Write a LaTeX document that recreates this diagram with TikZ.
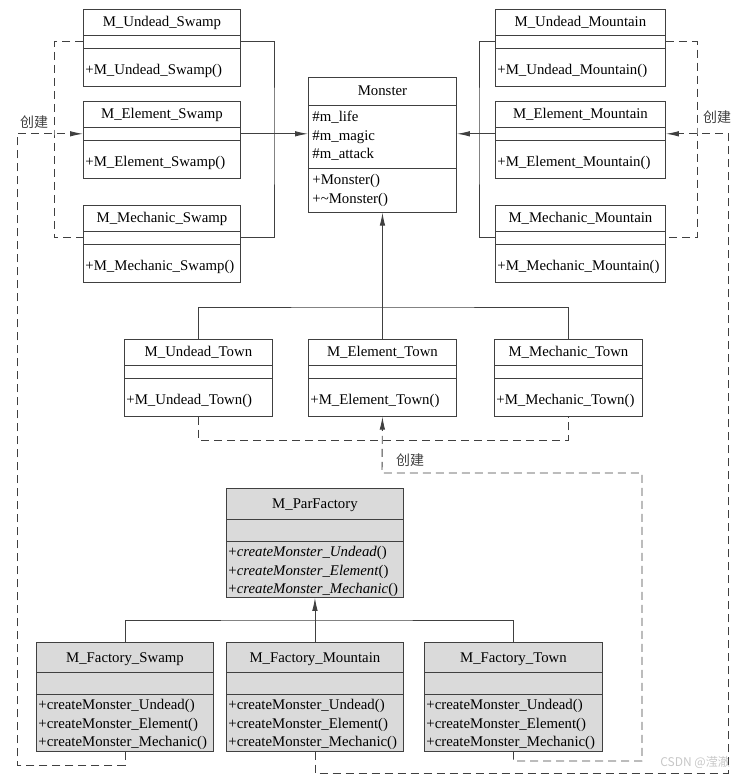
\documentclass[tikz,border=0pt]{standalone}
\usepackage{fontspec}
\setmainfont{Liberation Serif}
\newfontfamily\cjk{Noto Sans CJK SC}
\usepackage{tikz}
\usetikzlibrary{arrows.meta}
\usetikzlibrary{shapes.multipart}
\definecolor{linegray}{RGB}{64,64,64}
\definecolor{boxgray}{RGB}{218,218,218}
\tikzset{>=latex}
\tikzstyle{cls} = [rectangle split, rectangle split parts=3, draw=linegray, line width=0.9pt, anchor=north west, inner xsep=2pt, inner ysep=0pt, align=left, rectangle split part align={center,left,left}, rectangle split empty part height=6pt, rectangle split empty part depth=6pt, font=\fontsize{14.8}{18.5}\selectfont]
\tikzstyle{fct} = [cls, fill=boxgray, minimum width=177pt, rectangle split empty part height=10.5pt, rectangle split empty part depth=10.5pt]
\tikzstyle{ln} = [draw=linegray, line width=0.9pt]
\tikzstyle{inh} = [ln, -{Latex[length=13pt,width=5.5pt]}]
\tikzstyle{dep} = [ln, line width=1pt, dash pattern=on 8pt off 5pt]
\tikzstyle{lbl} = [font=\cjk\fontsize{14}{16}\selectfont, text=linegray, inner sep=0pt]
% struts for the parts of a class box
\newcommand{\cname}[2][25pt]{\rule[-0.34\dimexpr#1\relax]{0pt}{#1}#2}
\newcommand{\cop}[1]{\rule[-11.5pt]{0pt}{37pt}#1}
\newcommand{\gap}[1][12pt]{\rule[-0.5\dimexpr#1\relax]{0pt}{#1}}
\newcommand{\firstrow}[1][16pt]{\rule{0pt}{#1}}
\newcommand{\lastrow}[1][6pt]{\rule[-#1]{0pt}{#1}}

\begin{document}
\begin{tikzpicture}[x=1pt,y=-1pt]
\useasboundingbox (0,0) rectangle (739,777);
% swamp
\node [cls, minimum width=157pt] (US) at (83,9) {\cname{M\_Undead\_Swamp}\nodepart{two}\gap\nodepart{three}\cop{+M\_Undead\_Swamp()}};
\node [cls, minimum width=157pt] (ES) at (83,101) {\cname{M\_Element\_Swamp}\nodepart{two}\gap\nodepart{three}\cop{+M\_Element\_Swamp()}};
\node [cls, minimum width=157pt] (MS) at (83,205) {\cname{M\_Mechanic\_Swamp}\nodepart{two}\gap\nodepart{three}\cop{+M\_Mechanic\_Swamp()}};
% mountain
\node [cls, minimum width=170pt] (UM) at (495,9) {\cname{M\_Undead\_Mountain}\nodepart{two}\gap\nodepart{three}\cop{+M\_Undead\_Mountain()}};
\node [cls, minimum width=170pt] (EM) at (495,101) {\cname{M\_Element\_Mountain}\nodepart{two}\gap\nodepart{three}\cop{+M\_Element\_Mountain()}};
\node [cls, minimum width=170pt] (MM) at (495,205) {\cname{M\_Mechanic\_Mountain}\nodepart{two}\gap\nodepart{three}\cop{+M\_Mechanic\_Mountain()}};
% base class
\node [cls, minimum width=148pt, inner xsep=4pt] (Mon) at (308,77) {\cname[27pt]{Monster}\nodepart{two}\firstrow\#m\_life\\\#m\_magic\\\#m\_attack\lastrow[9pt]\nodepart{three}\firstrow+Monster()\\+\textasciitilde Monster()\lastrow[8.5pt]};
% town
\node [cls, minimum width=148pt] (UT) at (124,339) {\cname{M\_Undead\_Town}\nodepart{two}\gap\nodepart{three}\cop{+M\_Undead\_Town()}};
\node [cls, minimum width=148pt] (ET) at (308,339) {\cname{M\_Element\_Town}\nodepart{two}\gap\nodepart{three}\cop{+M\_Element\_Town()}};
\node [cls, minimum width=148pt] (MT) at (494,339) {\cname{M\_Mechanic\_Town}\nodepart{two}\gap\nodepart{three}\cop{+M\_Mechanic\_Town()}};
% factories
\node [fct] (PF) at (226,488) {\cname[30pt]{M\_ParFactory}\nodepart{two}\gap[21pt]\nodepart{three}\firstrow[15pt]+\textit{createMonster\_Undead}()\\+\textit{createMonster\_Element}()\\+\textit{createMonster\_Mechanic}()\lastrow[3pt]};
\node [fct] (FS) at (36,642) {\cname[29pt]{M\_Factory\_Swamp}\nodepart{two}\gap[21pt]\nodepart{three}\firstrow[15pt]+createMonster\_Undead()\\+createMonster\_Element()\\+createMonster\_Mechanic()\lastrow[4pt]};
\node [fct] (FM) at (226,642) {\cname[29pt]{M\_Factory\_Mountain}\nodepart{two}\gap[21pt]\nodepart{three}\firstrow[15pt]+createMonster\_Undead()\\+createMonster\_Element()\\+createMonster\_Mechanic()\lastrow[4pt]};
\node [fct, minimum width=178pt] (FT) at (424,642) {\cname[29pt]{M\_Factory\_Town}\nodepart{two}\gap[21pt]\nodepart{three}\firstrow[15pt]+createMonster\_Undead()\\+createMonster\_Element()\\+createMonster\_Mechanic()\lastrow[4pt]};
% labels
\node [lbl] (cL) at (34,122) {创建};
\node [lbl] (cR) at (717,117) {创建};
\node [lbl] (cT) at (410,460) {创建};
\node [font=\cjk\fontsize{12}{14}\selectfont, text=black!22, anchor=east, inner sep=0pt] (wm) at (730,762) {CSDN @滢澈};
% junctions
\coordinate (sj) at (274,133);
\coordinate (mj) at (479,133);
\coordinate (tj) at (382,307);
\coordinate (fj) at (314.5,620);
\coordinate (sd) at (54,133);
\coordinate (md) at (697,133);
\coordinate (td) at (382,440);
\coordinate (cl) at (17,765);
\coordinate (cr) at (728,773);
\coordinate (ct) at (642,761);
\coordinate (ck) at (382,473);
% inheritance
\draw [ln] (US.two east) -| (sj) |- (MS.two east);
\draw [inh] (ES.two east) -- (ES.two east -| Mon.west);
\draw [ln] (UM.two west) -| (mj) |- (MM.two west);
\draw [inh] (EM.two west) -- (EM.two west -| Mon.east);
\draw [ln] (UT.north) |- (tj) -| (MT.north);
\draw [inh] (ET.north) -- (Mon.south);
\draw [ln] (FS.north) |- (fj) -| (FT.north);
\draw [inh] (FM.north) -- (PF.south);
% creation
\draw [dep] (US.two west) -| (sd) |- (MS.two west);
\draw [dep] (UM.two east) -| (md) |- (MM.two east);
\draw [dep] (UT.south) |- (td) -| (MT.south);
\draw [dep, inh] (FS.south) |- (cl) |- (ES.two west);
\draw [dep, inh] (FM.south) |- (cr) |- (EM.two east);
\draw [dep, inh] (FT.south) |- (ct) |- (ck) -- (ET.south);
\end{tikzpicture}
\end{document}
